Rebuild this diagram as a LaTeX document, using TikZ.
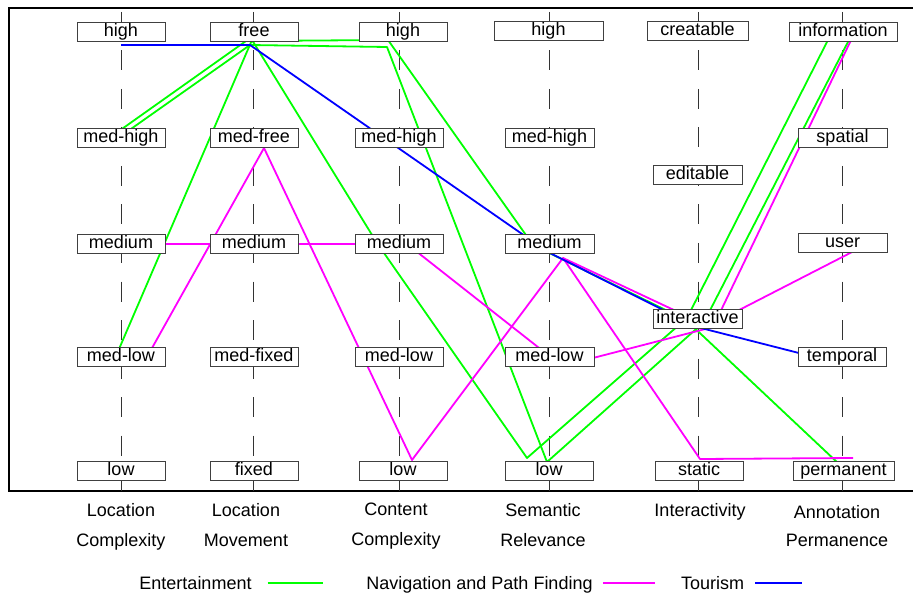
\documentclass[tikz,border=0pt]{standalone}
\usepackage{fontspec}
\setmainfont{Liberation Sans}
\usetikzlibrary{positioning}
\definecolor{navmag}{RGB}{255,0,255}
\definecolor{entgreen}{RGB}{0,255,0}
\definecolor{tourblue}{RGB}{0,0,255}

\begin{document}
\begin{tikzpicture}[
		x=1pt,y=-1pt,
		every node/.append style={font=\fontsize{18}{30}\selectfont,inner sep=0pt},
		valbox/.style={draw=black!75,fill=white,line width=0.8pt,minimum height=19pt,text height=13pt,text depth=3.5pt},
		axisline/.style={black!80,line width=0.7pt,dash pattern=on 20pt off 18.5pt},
		entline/.style={entgreen,line width=1.8pt,line join=round},
		navline/.style={navmag,line width=1.8pt,line join=round},
		tourline/.style={tourblue,line width=1.8pt,line join=round},
		axislabel/.style={anchor=north,align=center},
		legendtext/.style={anchor=north,text depth=0pt}
	]
	\useasboundingbox (0,0) rectangle (913,596);
	\draw[line width=2pt] (913,8) -- (9,8) -- (9,491) -- (913,491);
	\foreach \x in {121,253,399,549,698,842}
		\draw[axisline] (\x,12) -- (\x,491);

	% Entertainment
	\draw[entline] (112,136) -- (246,41) -- (388,40) -- (533,245) -- (686,320) -- (839,464);
	\draw[entline] (121,136) -- (250,45) -- (387,47) -- (547,462) -- (704,322) -- (851,36);
	\draw[entline] (116,356) -- (252,40) -- (377,243) -- (527,458) -- (687,318) -- (830,36);
	% Navigation and Path Finding
	\draw[navline] (147,357) -- (264,148) -- (412,460) -- (563,258) -- (700,459) -- (853,458);
	\draw[navline] (121,244) -- (253,244) -- (407,244) -- (562,366) -- (713,327) -- (853,36);
	\draw[navline] (563,258) -- (708,326) -- (856,250);
	% Tourism
	\draw[tourline] (121,45) -- (250,45) -- (548,252) -- (697,327) -- (842,364);

	\foreach \n/\x/\y/\w/\t in {
			lc1/121/31.5/88/high, lc2/121/137.5/88/med-high, lc3/121/243.5/88/medium, lc4/121/357/88/med-low, lc5/121/470.5/88/low,
			lm1/254/31.5/88/free, lm2/254/137.5/88/med-free, lm3/254/243.5/88/medium, lm4/254/357/88/med-fixed, lm5/254/470.5/88/fixed,
			cc1/403/31.5/88/high, cc2/399/137.5/88/med-high, cc3/399/243.5/88/medium, cc4/399/357/88/med-low, cc5/403/470.5/88/low,
			sr1/548.5/31/109/high, sr2/549.5/137.5/89/med-high, sr3/549.5/243.5/89/medium, sr4/549.5/357/89/med-low, sr5/549/470.5/88/low,
			ia1/697.5/31/101/creatable, ia2/697.5/175/89/editable, ia3/697.5/319/89/interactive, ia4/699/470.5/88/static,
			ap1/843/31.5/108/information, ap2/842.5/137.5/89/spatial, ap3/842.5/243/89/user, ap4/842/356.5/88/temporal, ap5/843.5/470.5/101/permanent}
		\node[valbox,minimum width=\w] (\n) at (\x,\y) {\t};

	\node[axislabel] (labLC) at (121,503) {Location\\Complexity};
	\node[axislabel] (labLM) at (246,503) {Location\\Movement};
	\node[axislabel] (labCC) at (396,503) {Content\\Complexity};
	\node[axislabel] (labSR) at (543,503) {Semantic\\Relevance};
	\node[axislabel] (labIA) at (700,503) {Interactivity};
	\node[axislabel,font=\fontsize{18}{28}\selectfont] (labAP) at (837,505) {Annotation\\Permanence};

	\node[legendtext] (legEnt) at (195.5,576) {Entertainment};
	\node[legendtext] (legNav) at (479.5,576) {Navigation and Path Finding};
	\node[legendtext] (legTour) at (712.5,576) {Tourism};
	\draw[entline] ([xshift=16pt]legEnt.east) -- ++(55,0);
	\draw[navline] ([xshift=10pt]legNav.east) -- ++(52,0);
	\draw[tourline] ([xshift=11pt]legTour.east) -- ++(47,0);
\end{tikzpicture}
\end{document}
